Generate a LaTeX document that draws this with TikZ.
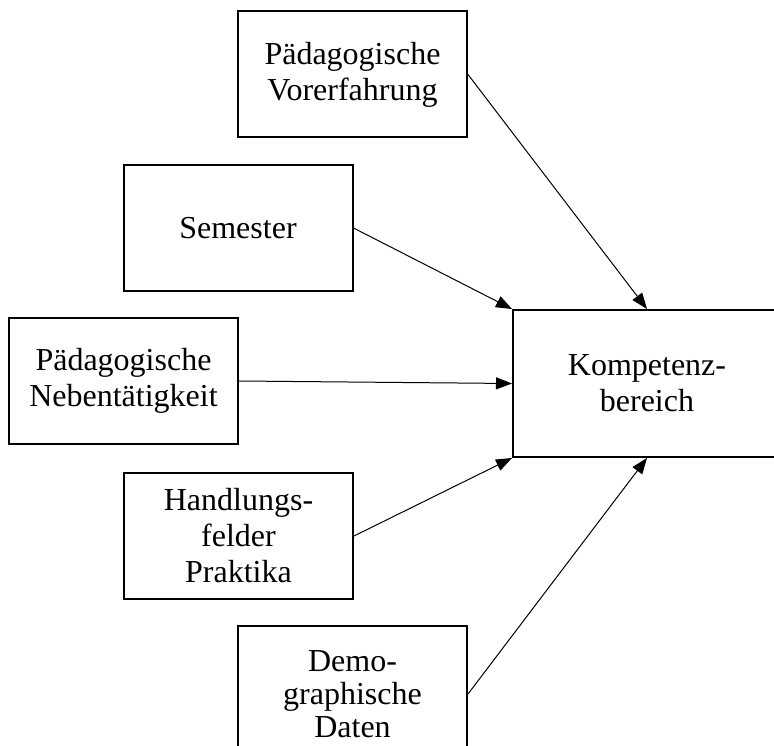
\documentclass[tikz,border=0pt]{standalone}
\usepackage{fontspec}
\setmainfont{Liberation Serif}
\usetikzlibrary{arrows.meta}
\tikzset{
  box/.style={draw, line width=2pt, rectangle, minimum width=229pt, minimum height=126pt,
    align=center, inner sep=0pt, font=\fontsize{32}{36}\selectfont},
  conn/.style={line width=1pt, -{Triangle[length=16pt,width=12pt]}}
}
\begin{document}
\begin{tikzpicture}[x=1pt,y=-1pt]
\clip (0,0) rectangle (774,746);
\fill[white] (0,0) rectangle (774,746);
\node[box] (vor) at (352.5,74.5) {Pädagogische\\Vorerfahrung};
\node[box] (sem) at (238,228) {Semester};
\node[box] (neb) at (123.5,381) {Pädagogische\\Nebentätigkeit};
\node[box] (hand) at (238.5,536) {Handlungs-\\felder\\Praktika};
\node[box, minimum height=136pt, font=\fontsize{32}{33}\selectfont] (demo) at (352.5,694) {Demo-\\graphische\\Daten};
\node[box, minimum width=268pt, minimum height=147pt] (komp) at (647,383.5) {Kompetenz-\\bereich};
\draw[conn] (vor.east) -- (komp.north);
\draw[conn] (sem.east) -- (komp.north west);
\draw[conn] (neb.east) -- (komp.west);
\draw[conn] (hand.east) -- (komp.south west);
\draw[conn] (demo.east) -- (komp.south);
\end{tikzpicture}
\end{document}
